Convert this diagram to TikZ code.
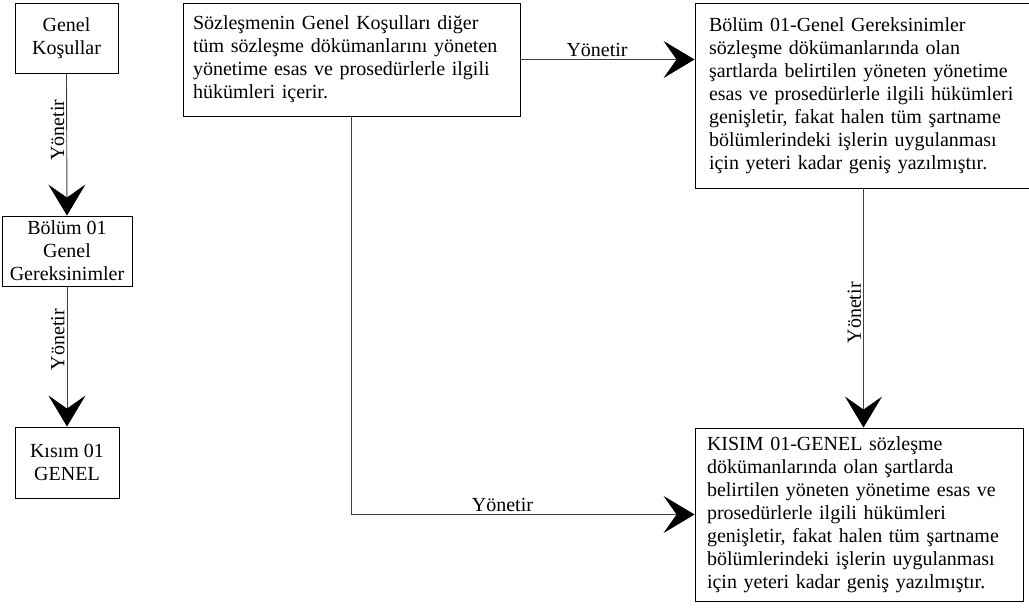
\documentclass[tikz,border=0pt]{standalone}
\usepackage{fontspec}
\setmainfont{Liberation Serif}
\usetikzlibrary{arrows.meta}
\begin{document}
\begin{tikzpicture}[x=1pt,y=-1pt,
  every node/.style={font=\fontsize{20}{23}\selectfont},
  box/.style={draw=black,line width=0.9pt,inner sep=0pt,align=center},
  tbox/.style={draw=black,line width=0.9pt,inner ysep=0pt,align=left},
  conn/.style={draw=black!75,line width=0.9pt,-{Stealth[length=31pt,width=37pt,inset=13pt,color=black]}},
  lab/.style={inner sep=2pt},
  vlab/.style={rotate=90,anchor=south,inner sep=2pt}]
\useasboundingbox (0,0) rectangle (1029,614);
% left column
\node[box,minimum width=103pt,minimum height=70pt] (gk) at (66.5,38) {Genel\\Koşullar};
\node[box,minimum width=130pt,minimum height=70pt] (b01) at (67,251) {Bölüm 01\\Genel\\Gereksinimler};
\node[box,minimum width=104pt,minimum height=71pt] (k01) at (67,462.5) {Kısım 01\\GENEL};
\draw[conn] (gk.south) -- node[vlab,pos=0.4]{Yönetir} (b01.north);
\draw[conn] (b01.south) -- node[vlab,pos=0.38]{Yönetir} (k01.north);
% right part
\node[tbox,inner xsep=10pt,text width=317pt,minimum height=113pt] (sgk) at (351.5,59.5)
 {Sözleşmenin Genel Koşulları diğer\\tüm sözleşme dökümanlarını yöneten\\yönetime esas ve prosedürlerle ilgili\\hükümleri içerir.};
\node[tbox,inner xsep=14pt,text width=309pt,minimum height=185pt] (bgg) at (863.5,95.5)
 {Bölüm 01-Genel Gereksinimler\\sözleşme dökümanlarında olan\\şartlarda belirtilen yöneten yönetime\\esas ve prosedürlerle ilgili hükümleri\\genişletir, fakat halen tüm şartname\\bölümlerindeki işlerin uygulanması\\için yeteri kadar geniş yazılmıştır.};
\node[tbox,inner xsep=12pt,text width=304pt,minimum height=173pt] (kg) at (859,514.5)
 {KISIM 01-GENEL sözleşme\\dökümanlarında olan şartlarda\\belirtilen yöneten yönetime esas ve\\prosedürlerle ilgili hükümleri\\genişletir, fakat halen tüm şartname\\bölümlerindeki işlerin uygulanması\\için yeteri kadar geniş yazılmıştır.};
\draw[conn] (sgk.east) -- node[lab,above,pos=0.44]{Yönetir} (bgg.west |- sgk.east);
\draw[conn] (bgg.south) -- node[vlab,pos=0.52]{Yönetir} (bgg.south |- kg.north);
\draw[conn] (sgk.south) |- node[lab,above,pos=0.72]{Yönetir} (kg.west);
\end{tikzpicture}
\end{document}
